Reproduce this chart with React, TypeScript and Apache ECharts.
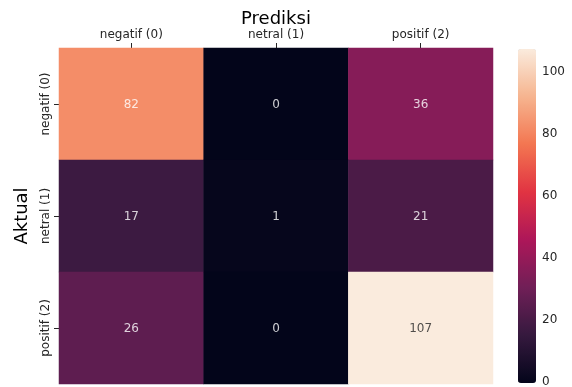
import React, { useEffect, useRef } from "react";
import * as echarts from "echarts";

const predictedLabels = ["negatif (0)", "netral (1)", "positif (2)"];
const actualLabels = ["negatif (0)", "netral (1)", "positif (2)"];
// rows = actual, columns = predicted
const rowNegatif = [82, 0, 36];
const rowNetral = [17, 1, 21];
const rowPositif = [26, 0, 107];
const colorbarTicks = [0, 20, 40, 60, 80, 100];
const valueMin = 0;
const valueMax = 107;

const rocket = [
  "#03051a",
  "#35193e",
  "#701f57",
  "#ad1759",
  "#e13342",
  "#f37651",
  "#f6b48f",
  "#faebdd",
];

const FONT = "DejaVu Sans";
const TEXT = "#262626";

export default function App() {
  const ref = useRef<HTMLDivElement>(null);

  useEffect(() => {
    if (!ref.current) return;
    const chart = echarts.init(ref.current, undefined, { renderer: "svg" });
    const rows = [rowNegatif, rowNetral, rowPositif];
    const data: any[] = [];
    const lightLabels: any[] = [];
    const darkLabels: any[] = [];
    rows.forEach((row, yi) => {
      row.forEach((v, xi) => {
        data.push([xi, yi, v]);
        const t = (v - valueMin) / (valueMax - valueMin);
        (t > 0.85 ? darkLabels : lightLabels).push([xi, yi, v]);
      });
    });

    // main grid geometry
    const gTop = 48;
    const gBottom = 384;
    const gLeft = 59;
    const gRight = 493;
    // colorbar geometry
    const cbLeft = 518;
    const cbWidth = 18;
    const cbTop = 49;
    const cbBottom = 383;
    const cbH = cbBottom - cbTop;
    const axisTop = cbBottom - (cbH * colorbarTicks[colorbarTicks.length - 1]) / valueMax;

    const labelSeries = (d: any[], color: string) => ({
      type: "scatter",
      xAxisIndex: 0,
      yAxisIndex: 0,
      data: d,
      symbolSize: 1,
      itemStyle: { color: "rgba(0,0,0,0)" },
      silent: true,
      z: 5,
      label: {
        show: true,
        position: ["50%", "50%"],
        align: "center",
        verticalAlign: "middle",
        color,
        fontSize: 12,
        fontFamily: FONT,
        formatter: (p: any) => String(p.value[2]),
      },
    });

    chart.setOption({
      animation: false,
      textStyle: { fontFamily: FONT },
      grid: [
        { left: gLeft, top: gTop, width: gRight - gLeft, height: gBottom - gTop },
        { left: cbLeft, top: axisTop, width: cbWidth, height: cbBottom - axisTop },
      ],
      xAxis: [
        {
          type: "category",
          gridIndex: 0,
          position: "top",
          data: predictedLabels,
          axisLine: { show: false },
          axisTick: { show: true, alignWithLabel: true, length: 5, lineStyle: { color: TEXT } },
          axisLabel: { fontSize: 12, color: TEXT, margin: 8, fontFamily: FONT },
          splitLine: { show: false },
          splitArea: { show: false },
        },
        { type: "value", gridIndex: 1, show: false, min: 0, max: 1 },
      ],
      yAxis: [
        {
          type: "category",
          gridIndex: 0,
          inverse: true,
          data: actualLabels,
          axisLine: { show: false },
          axisTick: { show: true, alignWithLabel: true, length: 5, lineStyle: { color: TEXT } },
          axisLabel: { fontSize: 12, color: TEXT, margin: 8, rotate: 90, fontFamily: FONT },
          splitLine: { show: false },
          splitArea: { show: false },
        },
        {
          type: "value",
          gridIndex: 1,
          position: "right",
          min: colorbarTicks[0],
          max: colorbarTicks[colorbarTicks.length - 1],
          interval: 20,
          axisLine: { show: false },
          axisTick: { show: true, length: 4, lineStyle: { color: TEXT } },
          axisLabel: { fontSize: 12, color: TEXT, margin: 6, fontFamily: FONT },
          splitLine: { show: false },
        },
      ],
      visualMap: {
        type: "continuous",
        seriesIndex: 0,
        min: valueMin,
        max: valueMax,
        orient: "vertical",
        left: cbLeft,
        top: cbTop,
        itemWidth: cbWidth,
        itemHeight: cbH,
        padding: 0,
        calculable: false,
        hoverLink: false,
        text: ["", ""],
        inRange: { color: rocket },
      },
      graphic: [
        {
          type: "text",
          x: (gLeft + gRight) / 2,
          y: 17,
          style: {
            text: "Prediksi",
            font: `18px '${FONT}'`,
            fill: "#000000",
            align: "center",
            verticalAlign: "middle",
          },
        },
        {
          type: "text",
          x: 20,
          y: (gTop + gBottom) / 2,
          rotation: Math.PI / 2,
          style: {
            text: "Aktual",
            font: `18px '${FONT}'`,
            fill: "#000000",
            align: "center",
            verticalAlign: "middle",
          },
        },
      ],
      series: [
        {
          type: "heatmap",
          xAxisIndex: 0,
          yAxisIndex: 0,
          data,
          label: { show: false },
          itemStyle: { borderWidth: 0 },
          emphasis: { disabled: true },
        },
        labelSeries(lightLabels, "#ffffff"),
        labelSeries(darkLabels, TEXT),
        {
          type: "scatter",
          xAxisIndex: 1,
          yAxisIndex: 1,
          data: [],
          silent: true,
        },
      ],
    });
    return () => chart.dispose();
  }, []);

  return (
    <div
      ref={ref}
      style={{ position: "fixed", left: 0, top: 0, width: 572, height: 387 }}
    />
  );
}
